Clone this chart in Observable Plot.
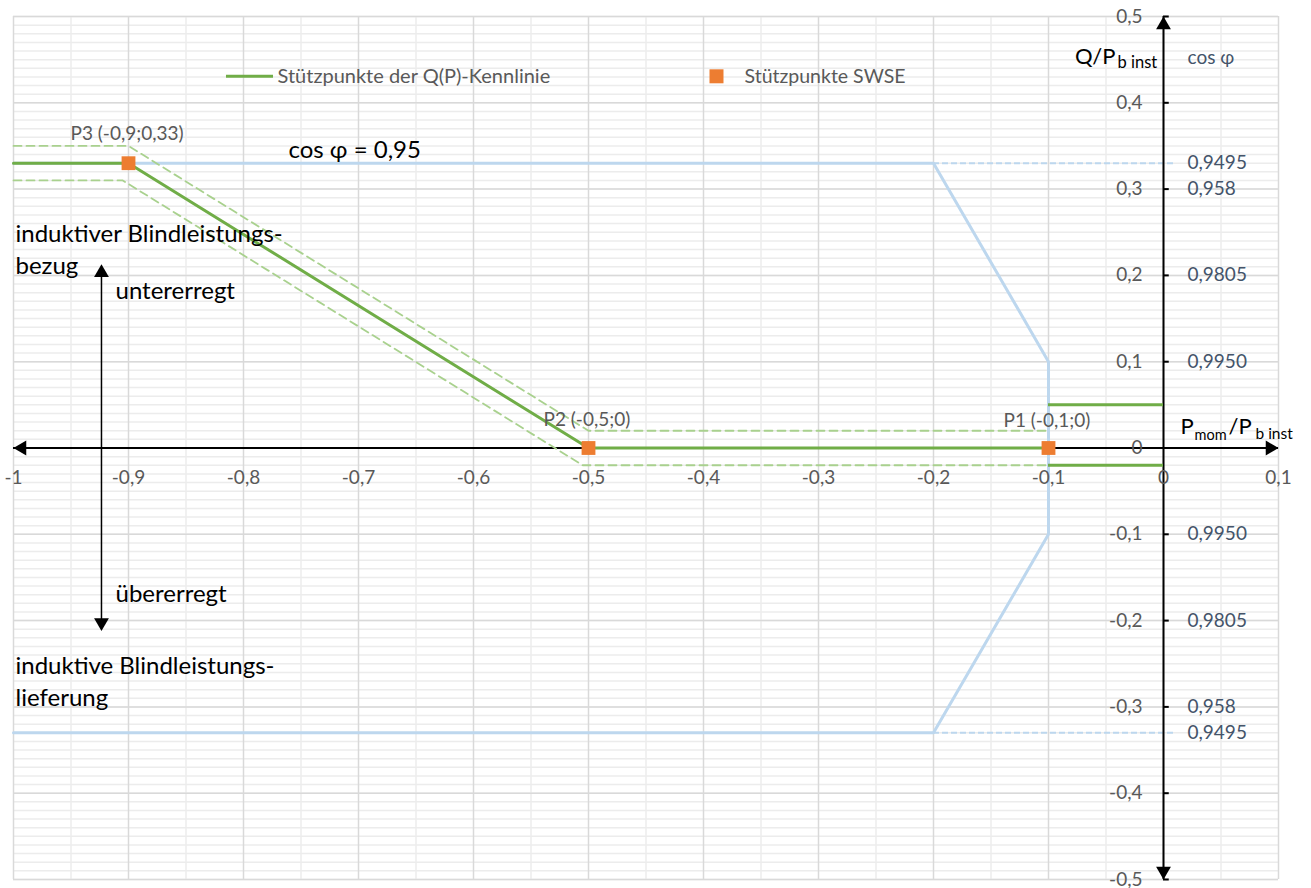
<!DOCTYPE html>
<html>
<head>
<meta charset="utf-8">
<script src="https://cdn.jsdelivr.net/npm/d3@7"></script>
<script src="https://cdn.jsdelivr.net/npm/@observablehq/plot@0.6"></script>
<style>
  html, body { margin: 0; padding: 0; background: #fff; }
  #chart { position: absolute; left: 0; top: 0; }
</style>
</head>
<body>
<div id="chart"></div>
<script>
// ---------------- Data ----------------
// Q(P)-Kennlinie (green)
const kennlinieP = [-1, -0.9, -0.5, -0.1];
const kennlinieQ = [0.33, 0.33, 0, 0];
// Toleranzband (dashed light green)
const tolOberP = [-1, -0.9, -0.5, -0.1];
const tolOberQ = [0.35, 0.35, 0.02, 0.02];
const tolUnterP = [-1, -0.905, -0.505, -0.1];
const tolUnterQ = [0.31, 0.31, -0.02, -0.02];
// band segments between P1 and the Q axis
const bandP = [-0.1, 0];
const bandOberQ = 0.05;
const bandUnterQ = -0.02;
// Stützpunkte SWSE (orange)
const stuetzP = [-0.9, -0.5, -0.1];
const stuetzQ = [0.33, 0, 0];
const stuetzLabels = ["P3 (-0,9;0,33)", "P2 (-0,5;0)", "P1 (-0,1;0)"];
// cos φ boundary (light blue)
const grenzeP = [-1, -0.2, -0.1, -0.1, -0.2, -1];
const grenzeQ = [0.33, 0.33, 0.1, -0.1, -0.33, -0.33];
const grenzeDashP = [-0.2, 0.01];
const grenzeDashQ = [0.33, -0.33];
// axes
const xTicks = [-1, -0.9, -0.8, -0.7, -0.6, -0.5, -0.4, -0.3, -0.2, -0.1, 0, 0.1];
const xTickLabels = ["-1", "-0,9", "-0,8", "-0,7", "-0,6", "-0,5", "-0,4", "-0,3", "-0,2", "-0,1", "0", "0,1"];
const xMinor = [-0.95, -0.85, -0.75, -0.65, -0.55, -0.45, -0.35, -0.25, -0.15, -0.05, 0.05];
const yTicks = [0.5, 0.4, 0.3, 0.2, 0.1, 0, -0.1, -0.2, -0.3, -0.4, -0.5];
const yTickLabels = ["0,5", "0,4", "0,3", "0,2", "0,1", "0", "-0,1", "-0,2", "-0,3", "-0,4", "-0,5"];
const yMinor = d3.range(-50, 51).map(i => i / 100);
// cos φ scale (right)
const cosQ = [0.33, 0.3, 0.2, 0.1, -0.1, -0.2, -0.3, -0.33];
const cosLabels = ["0,9495", "0,958", "0,9805", "0,9950", "0,9950", "0,9805", "0,958", "0,9495"];
// axis extents
const xAxisRange = [-1, 0.1];
const yAxisRange = [-0.5, 0.5];
// direction arrow (left)
const pfeilP = -0.9235;
const pfeilQ = [0.213, -0.212];

// ---------------- Tables ----------------
const zip = (xs, ys) => xs.map((x, i) => ({x, y: ys[i]}));
const kennlinie = zip(kennlinieP, kennlinieQ);
const tolOber = zip(tolOberP, tolOberQ);
const tolUnter = zip(tolUnterP, tolUnterQ);
const stuetz = stuetzP.map((x, i) => ({x, y: stuetzQ[i], label: stuetzLabels[i]}));
const grenze = zip(grenzeP, grenzeQ);
const xLab = xTicks.map((v, i) => ({v, label: xTickLabels[i]}));
const yLab = yTicks.map((v, i) => ({v, label: yTickLabels[i]}));
const cosLab = cosQ.map((v, i) => ({v, label: cosLabels[i]}));

const FONT = "Lato, 'Open Sans', sans-serif";
const GRAY = "#595959";
const COSC = "#44546a";
const GREEN = "#70ad47";
const LGREEN = "#a9d18e";
const BLUE = "#bdd7ee";
const ORANGE = "#ed7d31";
const LBL = 19;    // gray labels
const ANN = 24;    // black annotations

const tri = (o) => Plot.dot([o], {x: "x", y: "y", symbol: "triangle", r: 5.5, fill: "black", stroke: null, rotate: o.rot, dx: o.dx || 0, dy: o.dy || 0});

const chart = Plot.plot({
  width: 1311,
  height: 888,
  marginLeft: 13,
  marginRight: 33,
  marginTop: 16,
  marginBottom: 9,
  x: {domain: xAxisRange, axis: null},
  y: {domain: yAxisRange, axis: null},
  style: {fontFamily: FONT, background: "white", overflow: "visible"},
  marks: [
    // grid
    Plot.ruleY(yMinor, {stroke: "#ececec", strokeWidth: 1.5}),
    Plot.ruleX(xMinor, {stroke: "#ececec", strokeWidth: 1.5}),
    Plot.ruleY(yTicks, {stroke: "#d9d9d9", strokeWidth: 1.5}),
    Plot.ruleX(xTicks, {stroke: "#d9d9d9", strokeWidth: 1.5}),
    // cos φ boundary
    Plot.line(grenze, {x: "x", y: "y", stroke: BLUE, strokeWidth: 3}),
    Plot.ruleY(grenzeDashQ, {x1: grenzeDashP[0], x2: grenzeDashP[1], stroke: BLUE, strokeWidth: 2, strokeDasharray: "6,3"}),
    // axes
    Plot.ruleY([0], {x1: xAxisRange[0], x2: xAxisRange[1], stroke: "black", strokeWidth: 2}),
    Plot.ruleX([0], {y1: yAxisRange[0], y2: yAxisRange[1], stroke: "black", strokeWidth: 2}),
    Plot.ruleY(yTicks, {x1: 0, x2: 0.005, stroke: "black", strokeWidth: 2}),
    tri({x: 0, y: yAxisRange[1], rot: 0, dy: 8.5}),
    tri({x: 0, y: yAxisRange[0], rot: 180, dy: -8.5}),
    tri({x: xAxisRange[1], y: 0, rot: 90, dx: -8.5}),
    tri({x: xAxisRange[0], y: 0, rot: -90, dx: 8.5}),
    // tolerance band
    Plot.line(tolOber, {x: "x", y: "y", stroke: LGREEN, strokeWidth: 1.8, strokeDasharray: "8,5"}),
    Plot.line(tolUnter, {x: "x", y: "y", stroke: LGREEN, strokeWidth: 1.8, strokeDasharray: "8,5"}),
    // Kennlinie
    Plot.line(kennlinie, {x: "x", y: "y", stroke: GREEN, strokeWidth: 3}),
    Plot.ruleY([bandOberQ, bandUnterQ], {x1: bandP[0], x2: bandP[1], stroke: GREEN, strokeWidth: 3}),
    // Stützpunkte
    Plot.dot(stuetz, {x: "x", y: "y", symbol: "square", r: 7.8, fill: ORANGE, stroke: null}),
    Plot.text([stuetz[0]], {x: "x", y: "y", text: "label", dx: -58, dy: -29, textAnchor: "start", fill: GRAY, fontSize: LBL}),
    Plot.text([stuetz[1]], {x: "x", y: "y", text: "label", dx: -45, dy: -28, textAnchor: "start", fill: GRAY, fontSize: LBL}),
    Plot.text([stuetz[2]], {x: "x", y: "y", text: "label", dx: -45, dy: -27, textAnchor: "start", fill: GRAY, fontSize: LBL}),
    // tick labels
    Plot.text(xLab, {x: "v", y: 0, text: "label", dy: 30, fill: GRAY, fontSize: LBL}),
    Plot.text(yLab, {x: 0, y: "v", text: "label", dx: -21, textAnchor: "end", fill: GRAY, fontSize: LBL}),
    Plot.text(cosLab, {x: 0, y: "v", text: "label", dx: 24, textAnchor: "start", fill: COSC, fontSize: LBL}),
    Plot.text(["cos φ"], {x: 0, y: yAxisRange[1], dx: 24, dy: 41, textAnchor: "start", fill: COSC, fontSize: LBL}),
    // axis titles
    Plot.text(["Q/P"], {x: 0, y: yAxisRange[1], dx: -48, dy: 40, textAnchor: "end", fill: "black", fontSize: 22}),
    Plot.text(["b inst"], {x: 0, y: yAxisRange[1], dx: -46, dy: 46, textAnchor: "start", fill: "black", fontSize: 16.5}),
    Plot.text(["P"], {x: 0, y: 0, dx: 17, dy: -21, textAnchor: "start", fill: "black", fontSize: 22}),
    Plot.text(["mom"], {x: 0, y: 0, dx: 31, dy: -13, textAnchor: "start", fill: "black", fontSize: 14.5}),
    Plot.text(["/P"], {x: 0, y: 0, dx: 65, dy: -21, textAnchor: "start", fill: "black", fontSize: 22}),
    Plot.text(["b inst"], {x: 0, y: 0, dx: 92, dy: -14, textAnchor: "start", fill: "black", fontSize: 15.5}),
    // cos φ = 0,95
    Plot.text(["cos φ = 0,95"], {x: -0.7609, y: 0.345, textAnchor: "start", fill: "black", fontSize: ANN}),
    // direction arrow and annotations
    Plot.ruleX([pfeilP], {y1: pfeilQ[0] - 0.01, y2: pfeilQ[1] + 0.01, stroke: "black", strokeWidth: 1.5}),
    tri({x: pfeilP, y: pfeilQ[0], rot: 0, dy: 8.5}),
    tri({x: pfeilP, y: pfeilQ[1], rot: 180, dy: -8.5}),
    Plot.text(["induktiver Blindleistungs-"], {x: -1, y: 0.2476, dx: 2, textAnchor: "start", fill: "black", fontSize: ANN}),
    Plot.text(["bezug"], {x: -1, y: 0.2105, dx: 2, textAnchor: "start", fill: "black", fontSize: ANN}),
    Plot.text(["untererregt"], {x: -1, y: 0.1816, dx: 102, textAnchor: "start", fill: "black", fontSize: ANN}),
    Plot.text(["übererregt"], {x: -1, y: -0.1695, dx: 102, textAnchor: "start", fill: "black", fontSize: ANN}),
    Plot.text(["induktive Blindleistungs-"], {x: -1, y: -0.2529, dx: 2, textAnchor: "start", fill: "black", fontSize: ANN}),
    Plot.text(["lieferung"], {x: -1, y: -0.2897, dx: 2, textAnchor: "start", fill: "black", fontSize: ANN}),
    // legend
    Plot.ruleY([0.4307], {x1: -0.8148, x2: -0.7739, stroke: GREEN, strokeWidth: 3}),
    Plot.text(["Stützpunkte der Q(P)-Kennlinie"], {x: -0.7739, y: 0.4307, dx: 4, textAnchor: "start", fill: GRAY, fontSize: 20}),
    Plot.dot([{x: -0.3887, y: 0.4307}], {x: "x", y: "y", symbol: "square", r: 7.9, fill: ORANGE, stroke: null}),
    Plot.text(["Stützpunkte SWSE"], {x: -0.3887, y: 0.4307, dx: 28, textAnchor: "start", fill: GRAY, fontSize: 19.5})
  ]
});
document.getElementById("chart").appendChild(chart);
</script>
</body>
</html>
